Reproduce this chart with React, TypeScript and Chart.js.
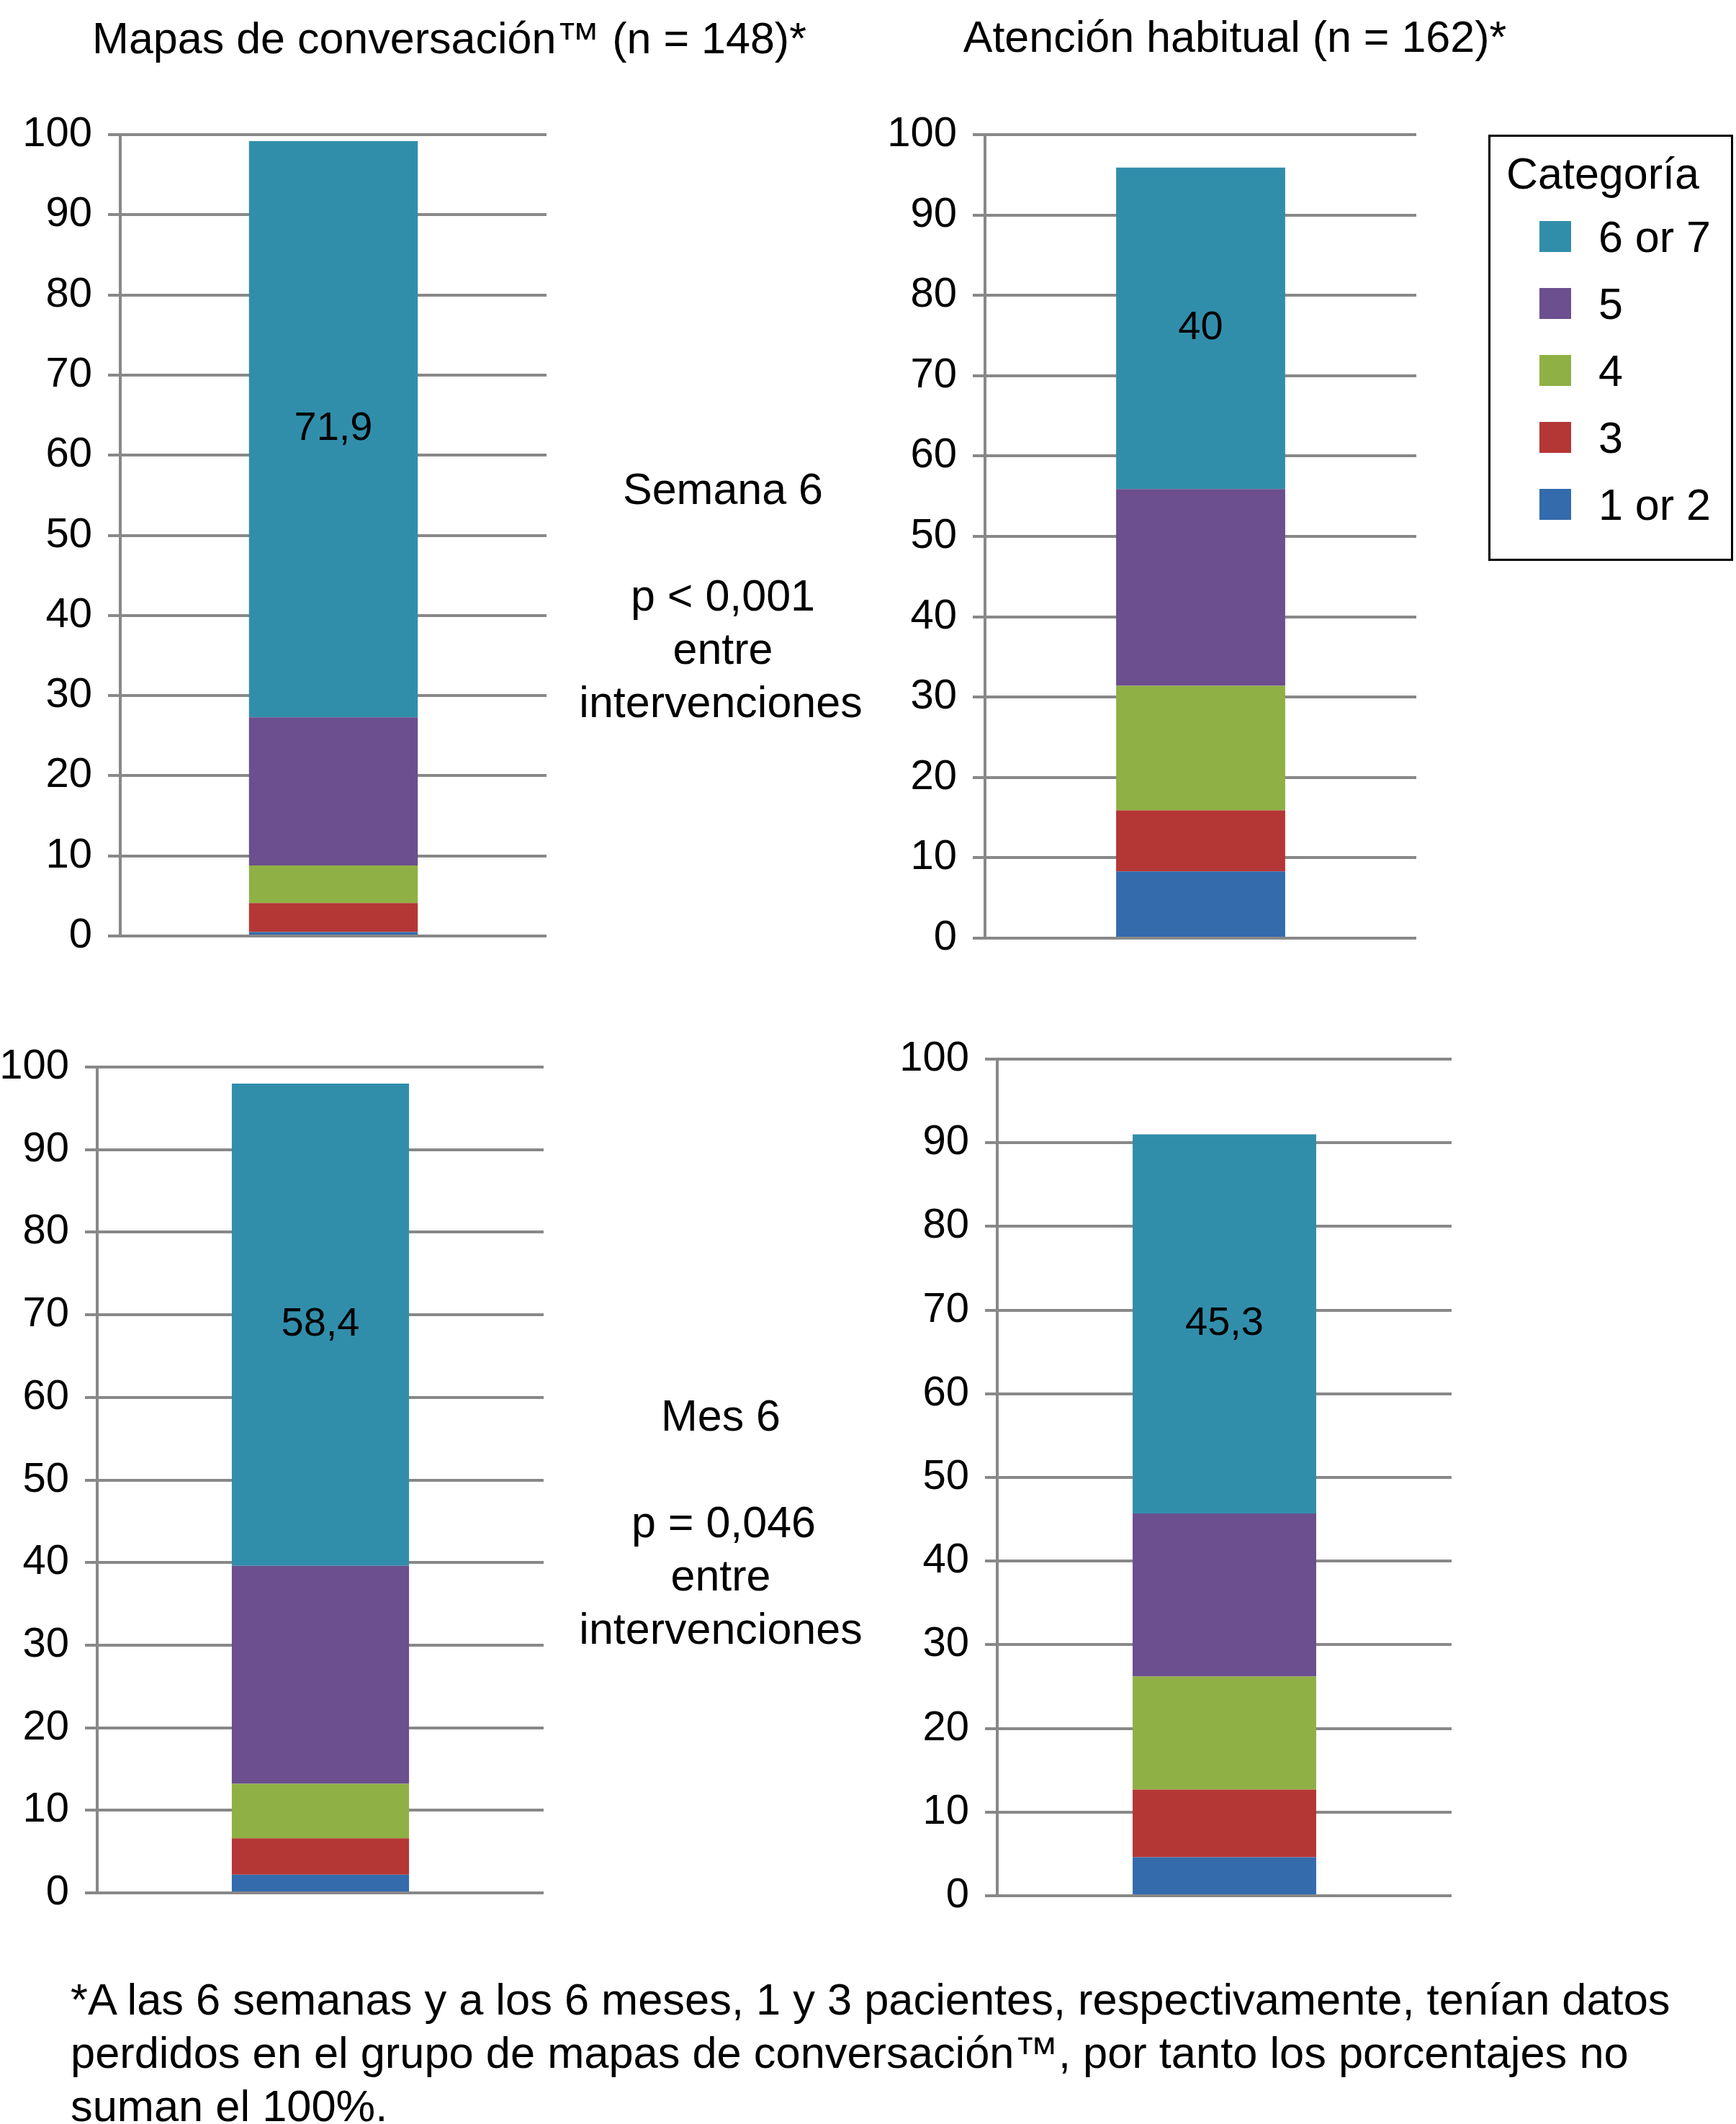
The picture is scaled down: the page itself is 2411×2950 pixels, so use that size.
import { useEffect, useRef } from 'react';
import { Chart, registerables } from 'chart.js';

Chart.register(...registerables);

// Categories (stack order bottom to top) and colours
const categories = ['1 or 2', '3', '4', '5', '6 or 7'];
const categoryColors = ['#336BAD', '#B53735', '#8FB045', '#6B4F8E', '#318EAB'];

// Percent of patients per category
const mapasSemana6 = [0.5, 3.6, 4.7, 18.5, 71.9];
const habitualSemana6 = [8.3, 7.6, 15.5, 24.5, 40];
const mapasMes6 = [2.2, 4.4, 6.6, 26.4, 58.4];
const habitualMes6 = [4.6, 8.1, 13.5, 19.5, 45.3];

const yTicks = [0, 10, 20, 30, 40, 50, 60, 70, 80, 90, 100];

const FONT = '"Liberation Sans", Arial, Helvetica, sans-serif';
const AXIS_W = 150;
// must be larger than half the tick label height plus tick padding,
// otherwise Chart.js pushes the plot area inwards
const PAD = 64;
const GRID = '#888888';

const valueLabel = {
  id: 'valueLabel',
  afterDatasetsDraw(chart: any) {
    const ctx = chart.ctx;
    const idx = chart.data.datasets.length - 1;
    const meta = chart.getDatasetMeta(idx);
    meta.data.forEach((bar: any, i: number) => {
      const v = chart.data.datasets[idx].data[i] as number;
      const { x, y, base } = bar.getProps(['x', 'y', 'base'], true);
      ctx.save();
      ctx.font = `56px ${FONT}`;
      ctx.fillStyle = '#000';
      ctx.textAlign = 'center';
      ctx.textBaseline = 'middle';
      ctx.fillText(String(v).replace('.', ','), x, (y + base) / 2);
      ctx.restore();
    });
  },
};

type Rect = { left: number; top: number; right: number; bottom: number };

function StackedPanel({ values, plot, barPct }: { values: number[]; plot: Rect; barPct: number }) {
  const canvasRef = useRef<HTMLCanvasElement>(null);
  const chartRef = useRef<Chart | null>(null);

  useEffect(() => {
    if (!canvasRef.current) return;
    if (chartRef.current) chartRef.current.destroy();

    chartRef.current = new Chart(canvasRef.current, {
      type: 'bar',
      data: {
        labels: [''],
        datasets: categories.map((c, i) => ({
          label: c,
          data: [values[i]],
          backgroundColor: categoryColors[i],
          borderWidth: 0,
          barPercentage: barPct,
          categoryPercentage: 1,
        })),
      },
      options: {
        animation: false,
        responsive: true,
        maintainAspectRatio: false,
        layout: { padding: { top: PAD, bottom: PAD, left: 0, right: 0 } },
        plugins: { legend: { display: false }, tooltip: { enabled: false } },
        scales: {
          x: { stacked: true, display: false },
          y: {
            stacked: true,
            min: 0,
            max: 100,
            afterFit: (scale: any) => {
              scale.width = AXIS_W;
            },
            afterBuildTicks: (scale: any) => {
              scale.ticks = yTicks.map((v) => ({ value: v }));
            },
            ticks: { color: '#000', padding: 22, font: { family: FONT, size: 58 } },
            grid: { color: GRID, lineWidth: 4, tickLength: 17, drawTicks: true },
            border: { color: GRID, width: 4 },
          },
        },
      },
      plugins: [valueLabel],
    });

    return () => {
      if (chartRef.current) {
        chartRef.current.destroy();
        chartRef.current = null;
      }
    };
  }, [values, plot, barPct]);

  const left = plot.left - AXIS_W;
  const top = plot.top - PAD;
  return (
    <div
      style={{
        position: 'absolute',
        left,
        top,
        width: plot.right - left,
        height: plot.bottom + PAD - top,
      }}
    >
      <canvas ref={canvasRef} />
    </div>
  );
}

const text = (x: number, y: number, s: string, align: 'center' | 'left' = 'center', size = 61) => (
  <div
    style={{
      position: 'absolute',
      left: x,
      top: y - 37,
      lineHeight: '74px',
      fontSize: size,
      whiteSpace: 'nowrap',
      transform: align === 'center' ? 'translateX(-50%)' : undefined,
    }}
  >
    {s}
  </div>
);

export default function App() {
  return (
    <div
      style={{
        position: 'absolute',
        left: 0,
        top: 0,
        width: 2411,
        height: 2950,
        background: '#fff',
        fontFamily: FONT,
        color: '#000',
        overflow: 'hidden',
      }}
    >
      {text(624, 53, 'Mapas de conversación™ (n = 148)*')}
      {text(1715, 51, 'Atención habitual (n = 162)*')}

      <StackedPanel values={mapasSemana6} plot={{ left: 167, top: 187, right: 759, bottom: 1300 }} barPct={0.396} />
      <StackedPanel values={habitualSemana6} plot={{ left: 1368, top: 187, right: 1967, bottom: 1303 }} barPct={0.392} />
      <StackedPanel values={mapasMes6} plot={{ left: 135, top: 1482, right: 755, bottom: 2629 }} barPct={0.397} />
      <StackedPanel values={habitualMes6} plot={{ left: 1385, top: 1471, right: 2016, bottom: 2633 }} barPct={0.404} />

      {text(1004, 679, 'Semana 6')}
      {text(1004, 827, 'p < 0,001')}
      {text(1004, 901, 'entre')}
      {text(1001, 975, 'intervenciones')}

      {text(1001, 1966, 'Mes 6')}
      {text(1005, 2114, 'p = 0,046')}
      {text(1001, 2188, 'entre')}
      {text(1001, 2262, 'intervenciones')}

      {/* legend */}
      <div
        style={{
          position: 'absolute',
          left: 2067,
          top: 187,
          width: 340,
          height: 592,
          border: '3px solid #000',
          boxSizing: 'border-box',
        }}
      >
        {text(22, 51, 'Categoría', 'left')}
        {categories
          .map((c, i) => ({ c, color: categoryColors[i] }))
          .reverse()
          .map((item, k) => (
            <div key={item.c}>
              <div
                style={{
                  position: 'absolute',
                  left: 68,
                  top: 139 + k * 93 - 22,
                  width: 44,
                  height: 43,
                  background: item.color,
                }}
              />
              {text(150, 139 + k * 93, item.c, 'left')}
            </div>
          ))}
      </div>

      {text(98, 2777, '*A las 6 semanas y a los 6 meses, 1 y 3 pacientes, respectivamente, tenían datos', 'left', 61.4)}
      {text(98, 2851, 'perdidos en el grupo de mapas de conversación™, por tanto los porcentajes no', 'left', 61.4)}
      {text(98, 2925, 'suman el 100%.', 'left', 61.4)}
    </div>
  );
}
